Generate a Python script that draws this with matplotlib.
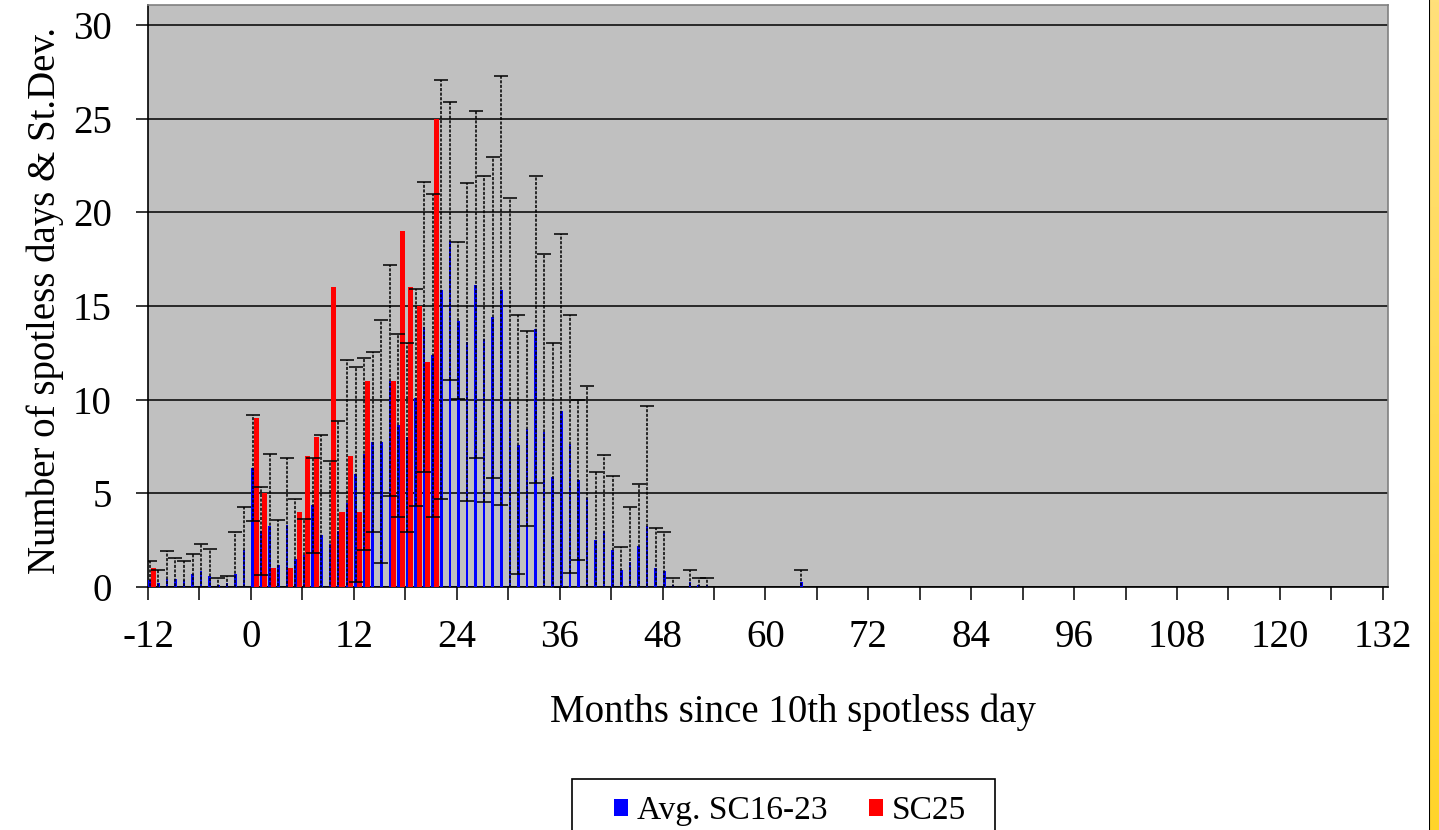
import numpy as np
import matplotlib.pyplot as plt
from matplotlib.patches import Patch, Rectangle

plt.rcParams['font.family'] = ['Liberation Serif', 'DejaVu Serif']
plt.rcParams['axes.unicode_minus'] = False

# Average SC16-23 (months -12 .. 64 since 10th spotless day)
months_avg = list(range(-12, 65))
avg = [0.36, 0.21, 0.43, 0.43, 0.36, 0.71, 0.86, 0.57, 0.11, 0.21, 0.71, 2.00,
       6.35, 2.98, 3.25, 1.20, 3.30, 1.50, 1.70, 4.37, 2.80, 2.30, 3.00, 4.50,
       6.03, 7.10, 7.74, 7.75, 11.02, 8.63, 7.99, 10.10, 13.88, 12.37, 15.88, 18.48,
       14.22, 13.10, 16.14, 13.25, 14.39, 15.85, 9.87, 7.60, 8.46, 13.75, 8.26, 5.85,
       9.39, 7.64, 5.73, 4.75, 2.50, 3.00, 1.98, 0.89, 1.36, 2.21, 3.25, 1.00,
       0.86, 0.11, 0.00, 0.25, 0.11, 0.11, 0, 0, 0, 0, 0, 0,
       0, 0, 0, 0, 0.25]
std = [1.05, 0.70, 1.48, 1.12, 1.05, 1.06, 1.46, 1.47, 0.39, 0.40, 2.22, 2.27,
       2.83, 2.35, 3.87, 2.40, 3.60, 3.20, 1.95, 2.54, 5.30, 4.40, 5.85, 7.60,
       5.74, 5.15, 4.80, 6.48, 6.18, 4.90, 5.04, 5.80, 7.75, 8.63, 11.16, 7.42,
       4.21, 8.49, 9.28, 8.71, 8.56, 11.45, 10.88, 6.90, 5.19, 8.20, 9.53, 7.17,
       9.47, 6.88, 4.27, 5.98, 3.64, 4.05, 3.93, 1.24, 2.89, 3.29, 6.41, 2.13,
       2.10, 0.39, 0.00, 0.66, 0.39, 0.39, 0, 0, 0, 0, 0, 0,
       0, 0, 0, 0, 0.66]

# SC25 (months -12 .. 21)
months_sc25 = list(range(-12, 22))
sc25 = [1, 0, 0, 0, 0, 0, 0, 0, 0, 0, 0, 0,
        9, 5, 1, 0, 1, 4, 7, 8, 0, 16, 4, 7, 4, 11, 0, 0, 11, 19, 16, 15, 12, 25]

fig = plt.figure(figsize=(14.39, 8.30), dpi=100)
ax = fig.add_axes([148/1439, 243/830, 1240/1439, 582/830])
ax.set_facecolor('#C0C0C0')

x_avg = np.array(months_avg, dtype=float)
x_red = np.array(months_sc25, dtype=float)
ax.bar(x_avg + 0.05, avg, width=0.3, align='edge', color='#0000FF', zorder=3)
ax.bar(x_red + 0.33, sc25, width=0.6, align='edge', color='#FF0000', zorder=3)

avg_a = np.array(avg)
std_a = np.array(std)
m = std_a > 0
eb = ax.errorbar(x_avg[m] + 0.2, avg_a[m], yerr=std_a[m], fmt='none',
                 ecolor='black', elinewidth=1.1, capsize=5, capthick=1.1, zorder=4)
for lc in eb[2]:
    lc.set_linestyle((0, (2, 1.0)))

ax.set_xlim(-12, 132.6)
ax.set_ylim(0, 31.07)
ax.set_yticks(range(0, 31, 5))
ax.set_xticks(range(-12, 133, 12))
ax.set_xticks(range(-6, 133, 12), minor=True)
ax.yaxis.grid(True, color='black', linewidth=1.1, zorder=1)
ax.set_axisbelow(True)
ax.tick_params(axis='both', which='both', direction='out', length=9, width=1.1,
               labelsize=28, colors='black')
ax.tick_params(axis='x', pad=14)
ax.tick_params(axis='y', pad=17)

for side in ['top', 'right']:
    ax.spines[side].set_color('#808080')
    ax.spines[side].set_linewidth(1.2)
for side in ['left', 'bottom']:
    ax.spines[side].set_color('black')
    ax.spines[side].set_linewidth(1.2)

fig.text(45/1439, 1 - 300/830, 'Number of spotless days & St.Dev.', rotation=90,
         ha='center', va='center', fontsize=28)
fig.text(793/1439, 1 - 712/830, 'Months since 10th spotless day',
         ha='center', va='center', fontsize=28)

# legend box (runs off the bottom edge like the original)
fig.patches.append(Rectangle((572/1439, -0.1), 423/1439, 0.1 + (830 - 779)/830,
                             transform=fig.transFigure, facecolor='white',
                             edgecolor='black', linewidth=1.2, zorder=5))
handles = [Patch(facecolor='#0000FF'), Patch(facecolor='#FF0000')]
leg = fig.legend(handles, ['Avg. SC16-23', 'SC25'], loc='center',
                 bbox_to_anchor=(790/1439, 1 - 811/830), ncol=2, fontsize=24,
                 frameon=False, handlelength=0.42, handleheight=0.42,
                 handletextpad=0.25, columnspacing=1.25, borderpad=0)
leg.set_zorder(6)

# yellow side strip
sax = fig.add_axes([1429/1439, 0, 10/1439, 1])
grad = np.linspace(0, 1, 256).reshape(-1, 1)
sax.imshow(grad, aspect='auto', cmap=plt.matplotlib.colors.LinearSegmentedColormap.from_list(
    'y', ['#FFE07A', '#FFD42A']), extent=[0, 1, 0, 1])
sax.axvline(0, color='black', linewidth=1.5)
sax.set_xticks([])
sax.set_yticks([])
for s in sax.spines.values():
    s.set_visible(False)

fig.savefig('out.png', dpi=100)
